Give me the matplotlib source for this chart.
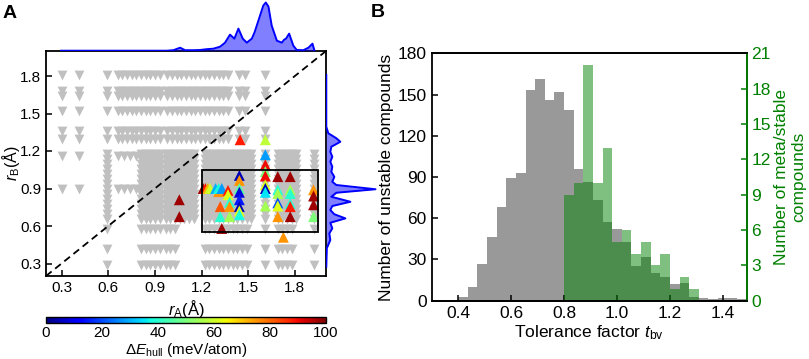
import numpy as np
import matplotlib
matplotlib.use("Agg")
import matplotlib.pyplot as plt
from matplotlib.patches import Rectangle

plt.rcParams['font.family'] = ['Liberation Sans', 'DejaVu Sans']
plt.rcParams['mathtext.fontset'] = 'custom'
plt.rcParams['mathtext.rm'] = 'Liberation Sans'
plt.rcParams['mathtext.it'] = 'Liberation Sans:italic'
plt.rcParams['mathtext.bf'] = 'Liberation Sans:bold'

# ---------------- Panel A data ----------------
# unstable compounds (grey, down triangles)
upper_rA = [0.30, 0.41, 0.59, 0.66, 0.69, 0.72, 0.75, 0.78, 0.81, 0.84, 0.87, 0.90, 0.93,
            0.98, 1.01, 1.04, 1.07, 1.10, 1.13, 1.16, 1.19, 1.22, 1.25, 1.28, 1.31, 1.34,
            1.37, 1.44, 1.48, 1.61]
upper_rB = [1.81, 1.68, 1.64, 1.52, 1.36, 1.30]

lower_rA = [0.59, 0.81, 0.84, 0.87, 0.90, 0.93, 0.97, 1.00, 1.03, 1.06, 1.09, 1.12, 1.15,
            1.22, 1.25, 1.28, 1.31, 1.34, 1.37, 1.40, 1.43, 1.46, 1.49, 1.52, 1.61, 1.69,
            1.72, 1.75, 1.78, 1.81, 1.92]
lower_rB = [1.18, 1.14, 1.10, 1.06, 1.02, 0.98, 0.94, 0.90, 0.86, 0.82, 0.78, 0.74, 0.70, 0.66]

bottom_rA = [0.59, 0.81, 0.84, 0.87, 0.90, 0.93, 0.97, 1.00, 1.03, 1.22, 1.25, 1.28, 1.31,
             1.34, 1.37, 1.40, 1.43, 1.46, 1.49, 1.61, 1.69, 1.72, 1.75, 1.78, 1.92]
bottom_rB = [0.58, 0.42, 0.29]

extra_rA = [0.30, 0.41, 0.66, 0.70, 0.74, 0.78]
extra_rB = [1.16, 0.90]

# meta/stable compounds (coloured, up triangles)
stab_rA = [1.448, 1.61, 1.61, 1.61, 1.61, 1.61, 1.61, 1.61, 1.61, 1.61,
           1.69, 1.77, 1.69, 1.69, 1.69, 1.69, 1.69, 1.77, 1.77, 1.77, 1.77, 1.77,
           1.92, 1.92, 1.92, 1.92, 1.726, 1.33,
           1.21, 1.225, 1.24, 1.255, 1.31, 1.29, 1.31, 1.33, 1.37, 1.37,
           1.32, 1.38, 1.38, 1.32, 1.38,
           1.443, 1.443, 1.443, 1.443, 1.443, 1.443, 1.443, 1.443,
           1.057, 1.057]
stab_rB = [1.29, 1.29, 1.17, 1.09, 1.035, 1.00, 0.93, 0.90, 0.87, 0.76,
           0.995, 0.995, 0.89, 0.86, 0.785, 0.76, 0.675, 0.89, 0.86, 0.78, 0.755, 0.675,
           0.89, 0.84, 0.77, 0.675, 0.51, 0.58,
           0.90, 0.90, 0.90, 0.90, 0.875, 0.90, 0.90, 0.90, 0.885, 0.85,
           0.755, 0.79, 0.755, 0.675, 0.675,
           1.005, 0.965, 0.90, 0.87, 0.81, 0.755, 0.72, 0.69,
           0.81, 0.675]
stab_dE = [88, 58, 28, 90, 50, 90, 62, 5, 35, 55,
           97, 97, 40, 55, 20, 62, 75, 55, 40, 40, 88, 97,
           75, 97, 97, 50, 75, 97,
           97, 88, 72, 60, 75, 30, 38, 28, 88, 62,
           82, 40, 75, 40, 55,
           5, 75, 45, 8, 15, 5, 62, 38,
           97, 97]

# marginal density curves
top_kde_rA = [0.296, 0.976, 1.019, 1.062, 1.094, 1.147, 1.190, 1.233, 1.276, 1.319,
              1.351, 1.383, 1.411, 1.437, 1.465, 1.491, 1.523, 1.540, 1.555, 1.576,
              1.597, 1.613, 1.630, 1.651, 1.684, 1.716, 1.731, 1.743, 1.763, 1.790,
              1.812, 1.855, 1.887, 1.913, 1.926]
top_kde_dens = [0, 0, 0.5, 3, 0.5, 0.5, 0.7, 1.5, 2, 4,
                8, 16, 12, 22, 12, 8, 12, 18, 25, 35,
                45, 48, 44, 25, 10, 8, 11, 12, 17, 5,
                0.7, 0.5, 3, 7, 0]
right_kde_rB = [1.808, 1.394, 1.342, 1.302, 1.274, 1.234, 1.194, 1.154, 1.114, 1.074,
                1.034, 0.994, 0.954, 0.928, 0.894, 0.866, 0.834, 0.794, 0.760, 0.728,
                0.694, 0.661, 0.626, 0.581, 0.541, 0.488, 0.422, 0.274]
right_kde_dens = [0, 0, 2, 10, 14, 5, 4, 6, 4, 6,
                  5, 8, 6, 10, 49, 10, 5, 24, 6, 4,
                  8, 19, 4, 6, 3, 4, 0.5, 0]

# ---------------- Panel B data ----------------
tbv_edges = np.linspace(0.4, 1.4909, 31)
unstable_counts = [3, 10, 27, 46, 68, 89, 93, 153, 161, 146, 152, 139, 96, 86, 73, 57,
                   52, 43, 25, 32, 20, 17, 12, 13, 3, 2, 1, 2, 2, 1]
stable_counts = [0, 0, 0, 0, 0, 0, 0, 0, 0, 0, 0, 9, 10, 20, 10, 13,
                 5, 6, 4, 5, 3, 4, 1, 2, 1, 0, 0, 0, 0, 0]

# ---------------- Figure ----------------
W, H = 809, 359
fig = plt.figure(figsize=(W / 100, H / 100), dpi=100)

def fx(px):
    return px / W

def fy(py):
    return 1 - py / H

ax = fig.add_axes([fx(46), fy(276), fx(326) - fx(46), fy(51) - fy(276)])
axt = fig.add_axes([fx(46), fy(51), fx(326) - fx(46), fy(0) - fy(51)])
axr = fig.add_axes([fx(326), fy(276), fx(377) - fx(326), fy(51) - fy(276)])
cax = fig.add_axes([fx(46), fy(323), fx(326) - fx(46), fy(317) - fy(323)])
axb = fig.add_axes([fx(431.7), fy(300.7), fx(746.7) - fx(431.7), fy(53.3) - fy(300.7)])

# grey points
gx, gy = [], []
for yv in upper_rB:
    for xv in upper_rA:
        gx.append(xv); gy.append(yv)
for xv in lower_rA:
    for yv in lower_rB:
        gx.append(xv); gy.append(yv)
for yv in bottom_rB:
    for xv in bottom_rA:
        gx.append(xv); gy.append(yv)
for yv in extra_rB:
    for xv in extra_rA:
        gx.append(xv); gy.append(yv)

ax.scatter(gx, gy, marker='v', s=50, c='#c0c0c0', linewidths=0, zorder=1)
ax.plot([0.2, 2.0], [0.2, 2.0], ls=(0, (4, 2.5)), color='black', lw=1.3, zorder=2)
sc = ax.scatter(stab_rA, stab_rB, c=stab_dE, cmap='jet', vmin=0, vmax=100,
                marker='^', s=62, linewidths=0, zorder=3)
ax.add_patch(Rectangle((1.2, 0.55), 0.75, 0.50, fill=False, ec='black', lw=1.3, zorder=4))
ax.set_xlim(0.2, 2.0)
ax.set_ylim(0.2, 2.0)
ax.set_xticks([0.3, 0.6, 0.9, 1.2, 1.5, 1.8])
ax.set_yticks([0.3, 0.6, 0.9, 1.2, 1.5, 1.8])
ax.tick_params(direction='in', length=4, width=1.1, labelsize=11)
for s in ax.spines.values():
    s.set_linewidth(1.3)
ax.set_xlabel(r'$r_{\rm A}$(Å)', fontsize=12, labelpad=2)
ax.set_ylabel(r'$r_{\rm B}$(Å)', fontsize=11.5)
ax.yaxis.set_label_coords(-(46 - 22) / 280, 0.5)

# marginal density curves
axt.fill_between(top_kde_rA, top_kde_dens, color='blue', alpha=0.5, lw=0)
axt.plot(top_kde_rA, top_kde_dens, color='blue', lw=1.4)
axt.set_xlim(0.2, 2.0)
axt.set_ylim(-0.3, 50.5)
axt.axis('off')

axr.fill_betweenx(right_kde_rB, right_kde_dens, color='blue', alpha=0.5, lw=0)
axr.plot(right_kde_dens, right_kde_rB, color='blue', lw=1.4)
axr.set_ylim(0.2, 2.0)
axr.set_xlim(-0.3, 50.5)
axr.axis('off')

cb = fig.colorbar(sc, cax=cax, orientation='horizontal', ticks=[0, 20, 40, 60, 80, 100])
cb.outline.set_linewidth(1.0)
cax.tick_params(length=0, labelsize=11, pad=2)
cb.set_label(r'$\Delta E_{\rm hull}$ (meV/atom)', fontsize=11, labelpad=1)

# Panel B
lefts = tbv_edges[:-1]
widths = np.diff(tbv_edges)
axb.bar(lefts, unstable_counts, width=widths, align='edge', color='gray', alpha=0.8, lw=0)
axb.set_xlim(0.3, 1.49)
axb.set_ylim(0, 180)
axb.set_yticks([0, 30, 60, 90, 120, 150, 180])
axb.set_xticks([0.4, 0.6, 0.8, 1.0, 1.2, 1.4])
axb.tick_params(direction='in', length=4, width=1.1, labelsize=12.5)
axb.set_xlabel(r'Tolerance factor $t_{\rm bv}$', fontsize=12.5, labelpad=2)
axb.set_ylabel('Number of unstable compounds', fontsize=12.5, labelpad=3)

axb2 = axb.twinx()
axb2.bar(lefts, stable_counts, width=widths, align='edge', color='green', alpha=0.5, lw=0)
axb2.set_ylim(0, 21)
axb2.set_yticks([0, 3, 6, 9, 12, 15, 18, 21])
axb2.tick_params(direction='in', length=4, width=1.1, labelsize=12.5,
                 colors='green')
axb2.set_ylabel('Number of meta/stable\ncompounds', fontsize=12.5, color='green',
                labelpad=2)
for s in axb.spines.values():
    s.set_linewidth(1.3)
for s in axb2.spines.values():
    s.set_linewidth(1.3)
axb2.spines['right'].set_color('green')
axb2.spines['left'].set_visible(False)

fig.text(fx(3), fy(5), 'A', fontsize=14, fontweight='bold', ha='left', va='top')
fig.text(fx(371), fy(4), 'B', fontsize=14, fontweight='bold', ha='left', va='top')

fig.savefig('out.png', dpi=100)
